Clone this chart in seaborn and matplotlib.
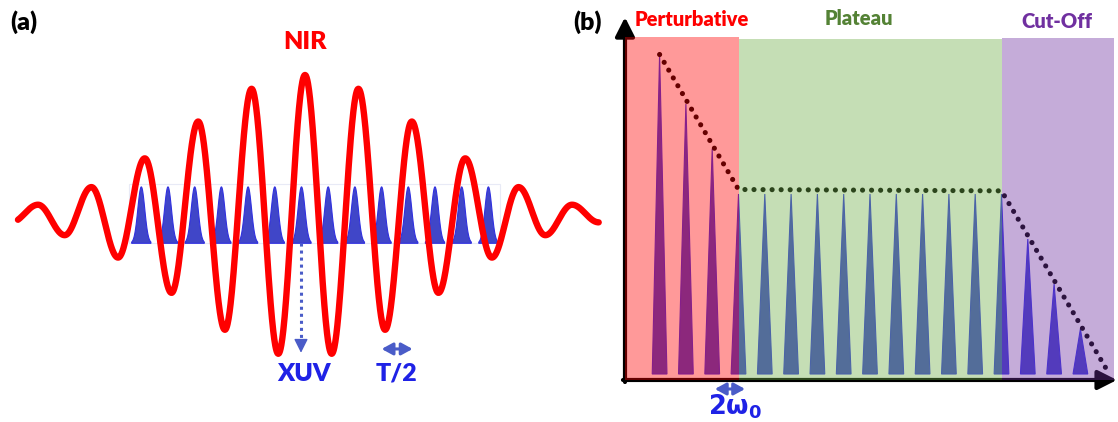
import numpy as np
import pandas as pd
import matplotlib
matplotlib.use("Agg")
import matplotlib.pyplot as plt
from matplotlib.patches import Polygon, Rectangle
import seaborn as sns

# ---------------- data ----------------
# (a) NIR field: extrema every half period (n = half-periods from centre), normalised amplitude
nir_extrema_n = list(range(-11, 12))
nir_extrema_amp = [0.045, 0.080, 0.136, 0.205, 0.295, 0.409, 0.545, 0.670, 0.807, 0.902, 0.977,
                   1.000,
                   0.977, 0.902, 0.807, 0.670, 0.545, 0.409, 0.295, 0.205, 0.136, 0.080, 0.045]
nir_span = [-10.75, 11.05]
# attosecond XUV pulse train (centres in half-periods)
xuv_centres = [-6.15, -5.15, -4.15, -3.15, -2.15, -1.15, -0.15,
               0.85, 1.85, 2.85, 3.85, 4.85, 5.85, 6.85]
xuv_peak = 0.40

# (b) harmonic spectrum
harmonic_index = list(range(17))
harmonic_intensity = [7.1, 6.0, 5.0, 4.0, 4.0, 4.0, 4.0, 4.0, 4.0, 4.0, 4.0, 4.0, 4.0, 4.0,
                      3.0, 2.0, 1.0]
envelope_x = [0.0, 3.0, 13.0, 17.1]
envelope_y = [7.1, 4.1, 4.07, 0.0]
region_names = ["Perturbative", "Plateau", "Cut-Off"]
region_edges = [-1.32, 3.03, 13.0, 17.28]
region_tops = [7.49, 7.44, 7.47]

# ---------------- style ----------------
sns.set_theme(style="white")
plt.rcParams["font.family"] = ["Lato", "DejaVu Sans"]
plt.rcParams["mathtext.fontset"] = "dejavusans"

RED = "#ff0000"
BLUE_TXT = "#1f22e6"
BLUE_ARR = "#4a5cc8"
PULSE = "#4046c8"
TRI = "#4043d0"
REG_COL = ["#ff0000", "#70ad47", "#7030a0"]
TXT_COL = ["#ff0000", "#548235", "#7030a0"]
FW = "heavy"

W, H = 1118, 422
fig = plt.figure(figsize=(W / 100, H / 100), dpi=100)
fig.patch.set_facecolor("white")

# ---------- panel (a) ----------
ax_a = fig.add_axes([0, 0, 605 / W, 1])
ax_a.set_xlim(-305 / 26.7, 300 / 26.7)
ax_a.set_ylim(-(H - 216) / 141, 216 / 141)
ax_a.axis("off")

# NIR curve: half-cosine segments joining the read extrema
vals = [a * (1 if n % 2 == 0 else -1) for n, a in zip(nir_extrema_n, nir_extrema_amp)]
xs, ys = [], []
for i in range(len(vals) - 1):
    t = np.linspace(0, 1, 80, endpoint=False)
    v0, v1 = vals[i], vals[i + 1]
    xs.append(nir_extrema_n[i] + t)
    ys.append((v0 + v1) / 2 + (v0 - v1) / 2 * np.cos(np.pi * t))
xs.append(np.array([nir_extrema_n[-1]]))
ys.append(np.array([vals[-1]]))
xs = np.concatenate(xs)
ys = np.concatenate(ys)
keep = (xs >= nir_span[0]) & (xs <= nir_span[1])
df_nir = pd.DataFrame({"t": xs[keep], "E": ys[keep]})

# XUV pulses
base = -0.19
for c in xuv_centres:
    t = np.linspace(-0.36, 0.36, 120)
    prof = base + xuv_peak * np.exp(-t ** 2 / (2 * 0.13 ** 2))
    ax_a.fill_between(c + t, base, prof, color=PULSE, lw=0.8, edgecolor="#3030e0", zorder=2)
ax_a.add_patch(Rectangle((xuv_centres[0] - 0.45, base), xuv_centres[-1] - xuv_centres[0] + 0.9,
                         xuv_peak + 0.02, fill=False, ec="#e8eaf6", lw=0.8, zorder=1))

sns.lineplot(data=df_nir, x="t", y="E", ax=ax_a, color=RED, lw=4.6, estimator=None,
             sort=False, zorder=3)
ax_a.set_xlabel("")
ax_a.set_ylabel("")

# XUV dotted arrow
xc = xuv_centres[6]
ax_a.plot([xc, xc], [base, -0.90], color=BLUE_ARR, lw=2.2, linestyle=(0, (1, 1.3)), zorder=4)
ax_a.annotate("", xy=(xc, -0.97), xytext=(xc, -0.88),
              arrowprops=dict(arrowstyle="-|>,head_length=0.7,head_width=0.35", color=BLUE_ARR,
                              lw=1, shrinkA=0, shrinkB=0), zorder=4)
ax_a.annotate("", xy=(2.87, -0.943), xytext=(4.03, -0.943),
              arrowprops=dict(arrowstyle="<|-|>,head_length=0.55,head_width=0.3", color=BLUE_ARR,
                              lw=2.2, shrinkA=0, shrinkB=0, mutation_scale=12), zorder=4)

ax_a.text(-10.52, 1.376, "(a)", fontsize=18, fontweight=FW, color="black",
          ha="center", va="center")
ax_a.text(0, 1.234, "NIR", fontsize=18, fontweight=FW, color=RED, ha="center", va="center")
ax_a.text(-0.03, -1.12, "XUV", fontsize=18, fontweight=FW, color=BLUE_TXT,
          ha="center", va="center")
ax_a.text(3.41, -1.12, "T/2", fontsize=18, fontweight=FW, color=BLUE_TXT,
          ha="center", va="center")

# ---------- panel (b) ----------
ax_b = fig.add_axes([560 / W, 0, 558 / W, 1])
ax_b.patch.set_alpha(0)
ax_b.set_xlim((560 - 659.6) / 26.3, (1118 - 659.6) / 26.3)
ax_b.set_ylim(-(H - 374) / 45, 374 / 45)
ax_b.axis("off")

hw = 0.28
for i, h in zip(harmonic_index, harmonic_intensity):
    ax_b.add_patch(Polygon([(i - hw, 0), (i + hw, 0), (i, h)], closed=True, fc=TRI,
                           ec="#3434e8", lw=0.8, zorder=2))

df_env = pd.DataFrame({"x": envelope_x, "y": envelope_y})
sns.lineplot(data=df_env, x="x", y="y", ax=ax_b, color="black", lw=3.7, estimator=None,
             sort=False, linestyle=(0, (0.01, 1.75)), dash_capstyle="round", zorder=3)
ax_b.set_xlabel("")
ax_b.set_ylabel("")

# axes arrows
x_axis_y = -0.133
y_axis_x = -1.316
arrow_style = "-|>,head_length=0.95,head_width=0.48"
ax_b.annotate("", xy=(y_axis_x, 7.93), xytext=(y_axis_x, x_axis_y - 0.045),
              arrowprops=dict(arrowstyle=arrow_style, color="black", lw=3, shrinkA=0, shrinkB=0,
                              mutation_scale=12), zorder=4)
ax_b.annotate("", xy=(17.39, x_axis_y), xytext=(y_axis_x - 0.076, x_axis_y),
              arrowprops=dict(arrowstyle=arrow_style, color="black", lw=3, shrinkA=0, shrinkB=0,
                              mutation_scale=12), zorder=4)

# translucent regions on top
for k in range(3):
    ax_b.add_patch(Rectangle((region_edges[k], x_axis_y), region_edges[k + 1] - region_edges[k],
                             region_tops[k] - x_axis_y, fc=REG_COL[k], alpha=0.4, lw=0, zorder=5))

label_x = [1.24, 7.56, 15.11]
label_y = [7.87, 7.90, 7.83]
for k in range(3):
    ax_b.text(label_x[k], label_y[k], region_names[k], fontsize=14.5, fontweight=FW,
              color=TXT_COL[k], ha="center", va="center", zorder=6)
ax_b.text(-2.76, 7.82, "(b)", fontsize=18, fontweight=FW, color="black",
          ha="center", va="center", zorder=6)

ax_b.annotate("", xy=(2.10, -0.333), xytext=(3.25, -0.333),
              arrowprops=dict(arrowstyle="<|-|>,head_length=0.55,head_width=0.3", color=BLUE_ARR,
                              lw=2.2, shrinkA=0, shrinkB=0, mutation_scale=12), zorder=6)
ax_b.text(2.87, -0.72, r"$\mathbf{2\omega_0}$", fontsize=18.5, color=BLUE_TXT,
          ha="center", va="center", zorder=6)

fig.savefig("out.png", dpi=100, facecolor="white")
